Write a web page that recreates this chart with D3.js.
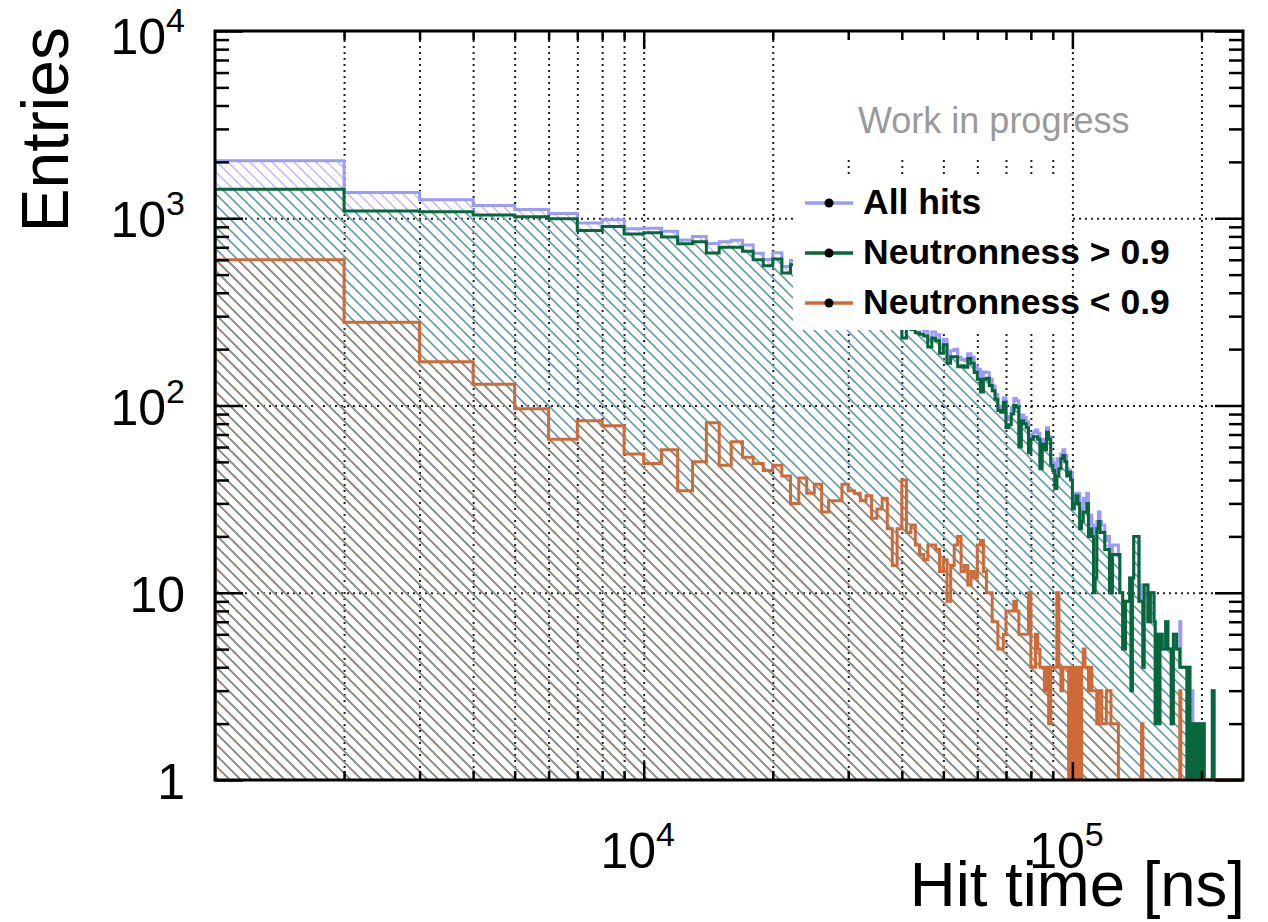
<!DOCTYPE html>
<html lang="en">
<head>
<meta charset="utf-8">
<script src="https://d3js.org/d3.v7.min.js"></script>
<style>
  body { margin: 0; background: #fff; }
  svg text { font-family: "Liberation Sans", Arial, sans-serif; }
</style>
</head>
<body>
<svg width="1268" height="922"></svg>

<script>
// histogram binning: 1000 ns wide bins, first bin starts at 1000 ns
var binWidth = 1000;
var firstEdge = 1000;

// entries per bin (bin k covers [k, k+1] x 1000 ns)
var allHits = [
  2028, 1371, 1254, 1170, 1114, 1060, 944, 982, 880, 885,
  851, 765, 798, 734, 748, 764, 720, 650, 603, 654,
  552, 595, 573, 549, 526, 497, 486, 461, 456, 437,
  419, 397, 385, 363, 348, 340, 314, 294, 290, 269,
  280, 278, 263, 256, 250, 223, 247, 239, 203, 226,
  177, 196, 200, 181, 176, 174, 189, 181, 162, 156,
  137, 151, 150, 138, 127, 115, 99, 97, 110, 84,
  87, 98, 109, 106, 66, 89, 86, 82, 66, 70,
  72, 74, 71, 50, 66, 61, 76, 68, 52, 49,
  40, 52, 50, 55, 58, 54, 46, 45, 44, 29,
  34, 34, 34, 23, 28, 32, 31, 34, 23, 26,
  23, 13, 15, 24, 27, 24, 23, 23, 19, 20,
  20, 13, 12, 18, 18, 18, 18, 16, 10, 10,
  5, 5, 9, 9, 9, 12, 3, 12, 20, 20,
  20, 20, 9, 9, 11, 4, 11, 11, 11, 7,
  7, 10, 10, 10, 7, 2, 2, 6, 2, 6,
  6, 5, 5, 5, 7, 7, 5, 5, 5, 2,
  2, 6, 6, 6, 5, 5, 5, 7, 4, 4,
  4, 4, 4, 4, 1, 1, 4, 1, 2, 3,
  0, 0, 2, 0, 2, 2, 0, 0, 2, 2,
  0, 2, 0, 0, 0, 0, 0, 0, 0, 0,
  0, 3, 3, 0, 0, 0, 0, 0, 0, 0,
  0, 0, 0, 0, 0, 0, 0, 0, 0, 0,
  0, 0, 0, 0, 0, 0, 0, 0, 0, 0,
  0, 0, 0, 0, 0, 0, 0, 0, 0
];

var neutronHigh = [
  1427, 1093, 1083, 1040, 1018, 994, 861, 904, 825, 836,
  793, 730, 748, 653, 700, 700, 667, 601, 558, 606,
  510, 565, 532, 515, 488, 470, 455, 430, 418, 402,
  385, 366, 352, 338, 320, 308, 292, 280, 268, 229,
  259, 255, 245, 240, 235, 205, 229, 222, 190, 211,
  168, 182, 182, 161, 163, 160, 178, 168, 150, 138,
  118, 138, 140, 128, 120, 108, 94, 92, 104, 76,
  79, 90, 100, 98, 60, 83, 80, 76, 56, 66,
  68, 68, 66, 46, 62, 58, 72, 66, 48, 45,
  36, 42, 46, 52, 54, 50, 42, 44, 40, 28,
  30, 33, 30, 22, 24, 27, 27, 30, 20, 22,
  20, 10, 12, 22, 24, 21, 21, 21, 17, 17,
  17, 10, 10, 16, 16, 16, 16, 16, 10, 10,
  5, 5, 9, 9, 9, 12, 3, 12, 20, 20,
  20, 20, 9, 9, 9, 4, 11, 11, 11, 7,
  7, 10, 10, 10, 7, 2, 2, 6, 2, 6,
  6, 5, 5, 5, 7, 7, 5, 5, 5, 2,
  2, 6, 6, 6, 5, 5, 5, 4, 4, 4,
  4, 4, 4, 4, 1, 1, 4, 1, 2, 2,
  0, 0, 2, 0, 2, 2, 0, 0, 2, 2,
  0, 2, 0, 0, 0, 0, 0, 0, 0, 0,
  0, 3, 3, 0, 0, 0, 0, 0, 0, 0,
  0, 0, 0, 0, 0, 0, 0, 0, 0, 0,
  0, 0, 0, 0, 0, 0, 0, 0, 0, 0,
  0, 0, 0, 0, 0, 0, 0, 0, 0
];

var neutronLow = [
  601, 278, 171, 130, 96, 66, 83, 78, 55, 49,
  58, 35, 50, 81, 48, 64, 53, 49, 45, 48,
  42, 30, 41, 34, 38, 27, 31, 31, 38, 35,
  34, 31, 33, 25, 28, 32, 22, 14, 22, 40,
  21, 23, 18, 16, 15, 18, 18, 17, 13, 15,
  9, 14, 18, 20, 13, 14, 11, 13, 12, 18,
  19, 13, 10, 10, 7, 7, 5, 5, 6, 8,
  8, 8, 9, 8, 6, 6, 6, 6, 10, 4,
  4, 6, 5, 4, 4, 3, 4, 2, 4, 4,
  4, 10, 4, 3, 4, 4, 4, 1, 4, 1,
  4, 1, 4, 1, 4, 5, 4, 4, 3, 4,
  3, 3, 3, 2, 3, 3, 2, 2, 2, 3,
  3, 3, 2, 2, 2, 2, 2, 0, 0, 0,
  0, 0, 0, 0, 0, 0, 0, 0, 0, 0,
  0, 0, 0, 0, 2, 0, 0, 0, 0, 0,
  0, 0, 0, 0, 0, 0, 0, 0, 0, 0,
  0, 0, 0, 0, 0, 0, 0, 0, 0, 0,
  0, 0, 0, 0, 0, 0, 0, 3, 0, 0,
  0, 0, 0, 0, 0, 0, 0, 0, 0, 1,
  0, 0, 0, 0, 0, 0, 0, 0, 0, 0,
  0, 0, 0, 0, 0, 0, 0, 0, 0, 0,
  0, 0, 0, 0, 0, 0, 0, 0, 0, 0,
  0, 0, 0, 0, 0, 0, 0, 0, 0, 0,
  0, 0, 0, 0, 0, 0, 0, 0, 0, 0,
  0, 0, 0, 0, 0, 0, 0, 0, 0
];

var seriesNames = ["All hits", "Neutronness > 0.9", "Neutronness < 0.9"];
var xLabelTicks = [1e4, 1e5];
var yLabelTicks = [1, 10, 100, 1000, 10000];

var svg = d3.select("svg");
var x = d3.scaleLog().domain([1000, 250000]).range([215, 1243]);
var y = d3.scaleLog().domain([1, 10000]).range([780, 31]).clamp(true);
// note: "top" is a reserved window property, so use other names
var frameTop = y.range()[1], frameBottom = y.range()[0];
var frameLeft = x.range()[0], frameRight = x.range()[1];

var series = [
  {name: seriesNames[0], values: allHits, line: "#9b9bfb", hatch: "#bdbdf6", id: "hAll"},
  {name: seriesNames[1], values: neutronHigh, line: "#07663a", hatch: "#62a0a2", id: "hHigh"},
  {name: seriesNames[2], values: neutronLow, line: "#cf6a37", hatch: "#9a8a7c", id: "hLow"}
];

// hatch patterns, all aligned to the page so they overlap exactly
var hs = 11;
var defs = svg.append("defs");
series.forEach(function(s) {
  defs.append("pattern")
    .attr("id", s.id)
    .attr("patternUnits", "userSpaceOnUse")
    .attr("width", hs).attr("height", hs)
    .append("path")
    .attr("d", "M-1,-1 L" + (hs + 1) + "," + (hs + 1) +
               " M-1," + (hs - 1) + " L1," + (hs + 1) +
               " M" + (hs - 1) + ",-1 L" + (hs + 1) + ",1")
    .attr("stroke", s.hatch)
    .attr("stroke-width", 1.5);
});
defs.append("clipPath").attr("id", "frameClip")
  .append("rect")
  .attr("x", frameLeft).attr("y", frameTop)
  .attr("width", frameRight - frameLeft).attr("height", frameBottom - frameTop);

// minor / major tick positions
var yMinor = [];
[1, 10, 100, 1000].forEach(function(d) { for (var m = 2; m <= 9; m++) yMinor.push(d * m); });
var xMinor = [];
[1000, 10000, 100000].forEach(function(d) {
  for (var m = 2; m <= 9; m++) if (d * m < 250000) xMinor.push(d * m);
});

// grid
var grid = svg.append("g").attr("class", "grid");
grid.append("g")
  .attr("transform", "translate(0," + frameBottom + ")")
  .call(d3.axisBottom(x).tickValues(xMinor.concat(xLabelTicks)).tickSize(-(frameBottom - frameTop)).tickFormat(""));
grid.append("g")
  .attr("transform", "translate(" + frameLeft + ",0)")
  .call(d3.axisLeft(y).tickValues([10, 100, 1000]).tickSize(-(frameRight - frameLeft)).tickFormat(""));
grid.selectAll(".domain").remove();
grid.selectAll("line")
  .attr("stroke", "#222")
  .attr("stroke-width", 2)
  .attr("stroke-dasharray", "2,4");

function histPath(values, closed) {
  var p = d3.path();
  p.moveTo(x(firstEdge), y(1));
  values.forEach(function(v, i) {
    var lo = firstEdge + i * binWidth;
    var yy = y(Math.max(v, 1));
    p.lineTo(x(lo), yy);
    p.lineTo(x(lo + binWidth), yy);
  });
  p.lineTo(x(firstEdge + values.length * binWidth), y(1));
  if (closed) p.closePath();
  return p.toString();
}

var plot = svg.append("g").attr("clip-path", "url(#frameClip)");
series.forEach(function(s) {
  plot.append("path")
    .attr("d", histPath(s.values, true))
    .attr("fill", "url(#" + s.id + ")")
    .attr("stroke", "none");
  plot.append("path")
    .attr("d", histPath(s.values, false))
    .attr("fill", "none")
    .attr("stroke", s.line)
    .attr("stroke-width", 3)
    .attr("stroke-linejoin", "miter");
});

// white boxes of the legend and the label
svg.append("rect")
  .attr("x", 793).attr("y", frameTop + 2).attr("width", 278).attr("height", 157 - frameTop - 2)
  .attr("fill", "#fff");
svg.append("rect")
  .attr("x", 793).attr("y", 178).attr("width", 278).attr("height", 152)
  .attr("fill", "#fff");

svg.append("text")
  .attr("x", 858).attr("y", 133)
  .attr("font-size", 36)
  .attr("fill", "#9a9a9a")
  .text("Work in progress");

var legend = svg.append("g");
var rowY = [203, 253, 303];
series.forEach(function(s, i) {
  var row = legend.append("g").attr("transform", "translate(0," + rowY[i] + ")");
  row.append("line")
    .attr("x1", 805).attr("x2", 853)
    .attr("stroke", s.line).attr("stroke-width", 3.5);
  row.append("circle").attr("cx", 829).attr("r", 4.5).attr("fill", "#000");
  row.append("text")
    .attr("x", 863).attr("y", 11)
    .attr("font-size", 35.5)
    .attr("font-weight", "bold")
    .text(s.name);
});

// ticks on all four sides, pointing inwards
var ticks = svg.append("g").attr("class", "ticks");
ticks.append("g").attr("transform", "translate(" + frameLeft + ",0)")
  .call(d3.axisLeft(y).tickValues(yMinor).tickSize(-14).tickFormat(""));
ticks.append("g").attr("transform", "translate(" + frameLeft + ",0)")
  .call(d3.axisLeft(y).tickValues(yLabelTicks).tickSize(-28).tickFormat(""));
ticks.append("g").attr("transform", "translate(" + frameRight + ",0)")
  .call(d3.axisRight(y).tickValues(yMinor).tickSize(-14).tickFormat(""));
ticks.append("g").attr("transform", "translate(" + frameRight + ",0)")
  .call(d3.axisRight(y).tickValues(yLabelTicks).tickSize(-28).tickFormat(""));
ticks.append("g").attr("transform", "translate(0," + frameBottom + ")")
  .call(d3.axisBottom(x).tickValues(xMinor).tickSize(-9).tickFormat(""));
ticks.append("g").attr("transform", "translate(0," + frameBottom + ")")
  .call(d3.axisBottom(x).tickValues(xLabelTicks).tickSize(-18).tickFormat(""));
ticks.append("g").attr("transform", "translate(0," + frameTop + ")")
  .call(d3.axisTop(x).tickValues(xMinor).tickSize(-9).tickFormat(""));
ticks.append("g").attr("transform", "translate(0," + frameTop + ")")
  .call(d3.axisTop(x).tickValues(xLabelTicks).tickSize(-18).tickFormat(""));
ticks.selectAll(".domain").remove();
ticks.selectAll("line").attr("stroke", "#000").attr("stroke-width", 2.5);

// frame
svg.append("rect")
  .attr("x", frameLeft).attr("y", frameTop)
  .attr("width", frameRight - frameLeft).attr("height", frameBottom - frameTop)
  .attr("fill", "none").attr("stroke", "#000").attr("stroke-width", 3);

// tick labels
function powerLabel(sel, v) {
  var e = Math.round(Math.log10(v));
  if (e === 0) { sel.text("1"); return; }
  if (e === 1) { sel.text("10"); return; }
  sel.append("tspan").text("10");
  sel.append("tspan").attr("font-size", 34).attr("dy", -22).text(e);
}

yLabelTicks.forEach(function(v) {
  var t = svg.append("text")
    .attr("x", 185).attr("y", y(v) + (v === 10000 ? 23 : 19))
    .attr("text-anchor", "end")
    .attr("font-size", 50);
  powerLabel(t, v);
});
xLabelTicks.forEach(function(v) {
  var t = svg.append("text")
    .attr("x", x(v) - 6).attr("y", 868)
    .attr("text-anchor", "middle")
    .attr("font-size", 50);
  powerLabel(t, v);
});

// axis titles
svg.append("text")
  .attr("transform", "translate(68,27) rotate(-90)")
  .attr("text-anchor", "end")
  .attr("font-size", 66)
  .text("Entries");
svg.append("text")
  .attr("x", 1245).attr("y", 906)
  .attr("text-anchor", "end")
  .attr("font-size", 63.5)
  .text("Hit time [ns]");
</script>
</body>
</html>
